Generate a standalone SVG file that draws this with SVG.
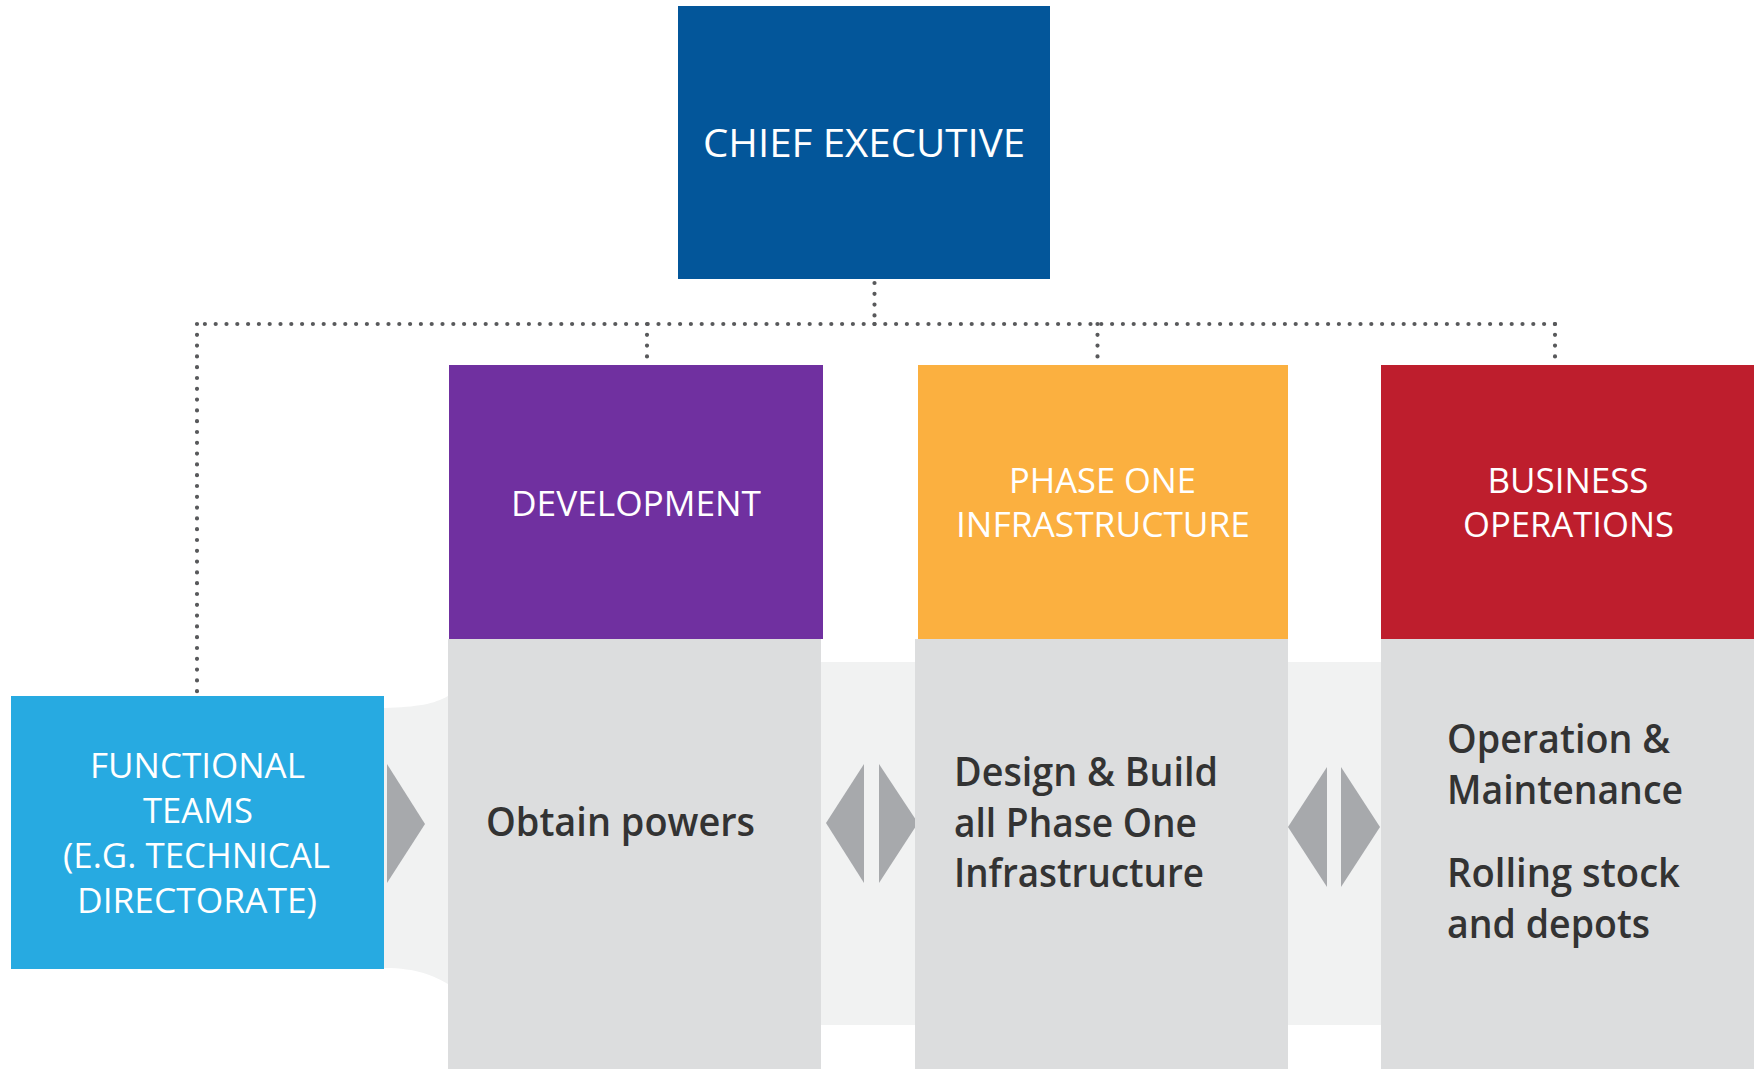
<svg xmlns="http://www.w3.org/2000/svg" width="1758" height="1069" viewBox="0 0 1758 1069">
  <style>
    .hdr { font-family: "Open Sans", "Noto Sans", "Liberation Sans", sans-serif; font-weight: 400; fill: #FFFFFF; text-anchor: middle; }
    .body { font-family: "Open Sans", "Noto Sans", "Liberation Sans", sans-serif; font-weight: 600; fill: #333333; font-size: 40px; }
    .dots { fill: none; stroke: #58595B; stroke-width: 4.2; stroke-linecap: round; stroke-dasharray: 0 10.8; }
    .col { fill: #DCDDDE; }
    .band { fill: #F1F2F2; }
    .tri { fill: #A7A9AC; }
  </style>
  <rect x="0" y="0" width="1758" height="1069" fill="#FFFFFF"/>

  <g id="flow">
    <path class="band" d="M384,708 C418,707 434,704 448,696 L448,984 C434,976 418,968 384,968 Z"/>
    <rect class="band" x="821" y="662" width="94" height="363"/>
    <rect class="band" x="1288" y="662" width="93" height="363"/>
    <polygon class="tri" points="387,764 425,824 387,883"/>
    <polygon class="tri" points="864,764 826,823 864,883"/>
    <polygon class="tri" points="879,764 918,823 879,883"/>
    <polygon class="tri" points="1327,767 1288,827 1327,887"/>
    <polygon class="tri" points="1341,767 1380,827 1341,887"/>
  </g>

  <g id="connectors">
    <path class="dots" d="M874.5,283 L874.5,324"/>
    <path class="dots" d="M874.5,324 L197,324"/>
    <path class="dots" d="M874.5,324 L1555,324"/>
    <path class="dots" d="M197,324 L197,692"/>
    <path class="dots" d="M647,324 L647,364"/>
    <path class="dots" d="M1097.5,324 L1097.5,364"/>
    <path class="dots" d="M1555,324 L1555,364"/>
  </g>

  <g id="chief">
    <rect x="678" y="6" width="372" height="273" fill="#03569A"/>
    <text class="hdr" x="864" y="156.5" font-size="39" textLength="322" lengthAdjust="spacingAndGlyphs">CHIEF EXECUTIVE</text>
  </g>

  <g id="development">
    <rect class="col" x="448" y="639" width="373" height="430"/>
    <rect x="449" y="365" width="374" height="274" fill="#7030A0"/>
    <text class="hdr" x="636" y="516" font-size="35" textLength="250" lengthAdjust="spacingAndGlyphs">DEVELOPMENT</text>
    <text class="body" x="486" y="835.5" textLength="269" lengthAdjust="spacingAndGlyphs">Obtain powers</text>
  </g>

  <g id="phase-one">
    <rect class="col" x="915" y="639" width="373" height="430"/>
    <rect x="918" y="365" width="370" height="274" fill="#FBB040"/>
    <text class="hdr" x="1102.5" y="493.3" font-size="35" textLength="187" lengthAdjust="spacingAndGlyphs">PHASE ONE</text>
    <text class="hdr" x="1103" y="537.3" font-size="35" textLength="294" lengthAdjust="spacingAndGlyphs">INFRASTRUCTURE</text>
    <text class="body" x="954" y="785.7" textLength="264" lengthAdjust="spacingAndGlyphs">Design &amp; Build</text>
    <text class="body" x="954" y="836.7" textLength="243" lengthAdjust="spacingAndGlyphs">all Phase One</text>
    <text class="body" x="954" y="887.3" textLength="250" lengthAdjust="spacingAndGlyphs">Infrastructure</text>
  </g>

  <g id="business-ops">
    <rect class="col" x="1381" y="639" width="373" height="430"/>
    <rect x="1381" y="365" width="373" height="274" fill="#BE1E2D"/>
    <text class="hdr" x="1568" y="493.3" font-size="35" textLength="161" lengthAdjust="spacingAndGlyphs">BUSINESS</text>
    <text class="hdr" x="1568.5" y="537.3" font-size="35" textLength="211" lengthAdjust="spacingAndGlyphs">OPERATIONS</text>
    <text class="body" x="1447" y="753.3" textLength="223" lengthAdjust="spacingAndGlyphs">Operation &amp;</text>
    <text class="body" x="1447" y="804" textLength="236" lengthAdjust="spacingAndGlyphs">Maintenance</text>
    <text class="body" x="1447" y="886.7" textLength="233" lengthAdjust="spacingAndGlyphs">Rolling stock</text>
    <text class="body" x="1447" y="937.7" textLength="203" lengthAdjust="spacingAndGlyphs">and depots</text>
  </g>

  <g id="functional">
    <rect x="11" y="696" width="373" height="273" fill="#27AAE1"/>
    <text class="hdr" x="197.5" y="777.7" font-size="34" textLength="215" lengthAdjust="spacingAndGlyphs">FUNCTIONAL</text>
    <text class="hdr" x="198" y="822.7" font-size="34" textLength="110" lengthAdjust="spacingAndGlyphs">TEAMS</text>
    <text class="hdr" x="196.5" y="867.7" font-size="34" textLength="267" lengthAdjust="spacingAndGlyphs">(E.G. TECHNICAL</text>
    <text class="hdr" x="197" y="912.7" font-size="34" textLength="240" lengthAdjust="spacingAndGlyphs">DIRECTORATE)</text>
  </g>
</svg>
